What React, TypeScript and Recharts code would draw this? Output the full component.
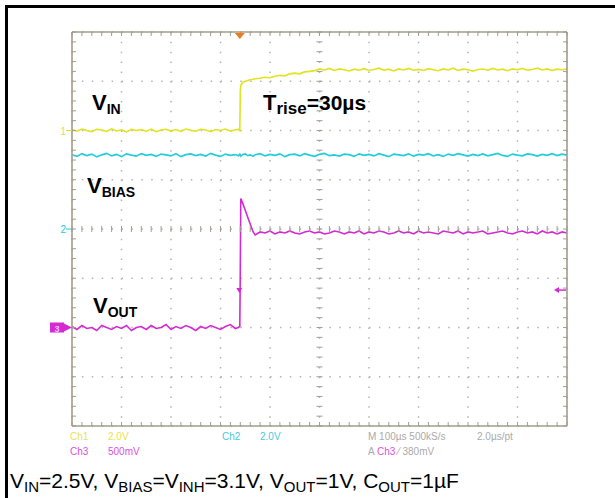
import {
  CartesianGrid,
  ComposedChart,
  Line,
  ReferenceDot,
  Scatter,
  XAxis,
  YAxis,
} from "recharts";

// time base: 100us/div, 10 divs
const TIME_US = [
  0, 10, 20, 30, 40, 50, 60, 70, 80, 90, 100, 110, 120, 130, 140, 150, 160, 170,
  180, 190, 200, 210, 220, 230, 240, 250, 260, 270, 280, 290, 300, 310, 320, 330,
  336, 339, 340, 341, 345, 350, 355, 360, 366, 370,
  380, 390, 400, 410, 420, 430, 440, 450, 460, 470, 480, 490, 500, 510, 520, 530,
  540, 550, 560, 570, 580, 590, 600, 610, 620, 630, 640, 650, 660, 670, 680, 690,
  700, 710, 720, 730, 740, 750, 760, 770, 780, 790, 800, 810, 820, 830, 840, 850,
  860, 870, 880, 890, 900, 910, 920, 930, 940, 950, 960, 970, 980, 990, 1000,
];

// Ch1 — V_IN (volts)
const VIN_V = [
  0.04, -0.03, 0.06, 0.0, -0.05, 0.05, 0.02, -0.04, 0.07, -0.02, 0.03, -0.06,
  0.05, 0.0, 0.04, -0.03, 0.06, -0.05, 0.02, 0.05, -0.02, 0.04, -0.04, 0.06,
  0.01, -0.03, 0.05, 0.02, -0.05, 0.04, 0.0, 0.06, -0.03, 0.03, 0.05, 0.0,
  1.6, 1.85, 1.95, 2.0, 2.03, 2.06, 2.08, 2.1,
  2.12, 2.16, 2.14, 2.2, 2.24, 2.22, 2.3, 2.33, 2.3, 2.38, 2.4, 2.43, 2.5, 2.46,
  2.52, 2.44, 2.5, 2.47, 2.42, 2.49, 2.45, 2.51, 2.44, 2.48, 2.53, 2.45, 2.49,
  2.42, 2.5, 2.46, 2.52, 2.45, 2.48, 2.44, 2.51, 2.47, 2.43, 2.5, 2.46, 2.53,
  2.44, 2.49, 2.47, 2.41, 2.48, 2.5, 2.45, 2.52, 2.46, 2.49, 2.43, 2.5, 2.47,
  2.52, 2.45, 2.48, 2.53, 2.46, 2.5, 2.44, 2.49, 2.47, 2.5,
];

// Ch2 — V_BIAS (volts)
const VBIAS_V = [
  3.02, 2.95, 3.06, 2.98, 3.04, 2.93, 3.01, 3.07, 2.97, 3.03, 2.94, 3.05, 3.0,
  2.96, 3.06, 2.99, 3.03, 2.95, 3.04, 3.01, 2.97, 3.06, 2.94, 3.02, 3.05, 2.98,
  3.03, 2.96, 3.07, 3.0, 2.95, 3.04, 2.99, 3.02, 2.97, 3.04, 3.0, 2.96, 3.03,
  3.05, 2.98, 3.01, 2.95, 3.02,
  3.06, 2.97, 3.03, 2.99, 3.05, 2.94, 3.02, 3.04, 2.97, 3.06, 3.0, 2.95, 3.03,
  3.07, 2.98, 3.01, 2.96, 3.04, 3.02, 2.95, 3.05, 2.99, 3.03, 2.97, 3.06, 3.0,
  2.94, 3.04, 3.01, 2.98, 3.05, 2.96, 3.03, 3.0, 3.06, 2.97, 3.02, 2.95, 3.04,
  2.99, 3.06, 3.01, 2.96, 3.03, 2.98, 3.05, 2.97, 3.02, 3.07, 2.99, 2.95, 3.04,
  3.0, 2.97, 3.05, 3.02, 2.96, 3.03, 2.99, 3.06, 2.98, 3.04, 3.0,
];

// Ch3 — V_OUT (volts)
const VOUT_V = [
  0.01, -0.02, 0.02, -0.01, 0.0, -0.03, 0.02, 0.0, -0.02, 0.01, -0.01, 0.02,
  -0.03, 0.0, 0.01, -0.02, 0.02, -0.01, 0.0, 0.03, -0.02, 0.01, -0.01, 0.02,
  0.0, -0.03, 0.01, -0.01, 0.02, 0.0, -0.02, 0.01, 0.03, -0.01, 0.0, 0.01,
  0.6, 1.31, 1.26, 1.19, 1.12, 1.05, 0.97, 0.94,
  0.97, 0.96, 0.98, 0.95, 0.97, 0.96, 0.98, 0.96, 0.95, 0.97, 0.98, 0.96, 0.97,
  0.95, 0.96, 0.98, 0.97, 0.95, 0.97, 0.96, 0.98, 0.95, 0.97, 0.96, 0.98, 0.97,
  0.95, 0.96, 0.98, 0.96, 0.97, 0.95, 0.98, 0.96, 0.97, 0.96, 0.95, 0.98, 0.97,
  0.96, 0.98, 0.95, 0.97, 0.96, 0.97, 0.98, 0.95, 0.96, 0.97, 0.98, 0.96, 0.95,
  0.97, 0.98, 0.96, 0.97, 0.95, 0.98, 0.96, 0.97, 0.95, 0.97, 0.96,
];

const DIV_TICKS = [0, 1, 2, 3, 4, 5, 6, 7, 8];
const TIME_TICKS = [0, 100, 200, 300, 400, 500, 600, 700, 800, 900, 1000];
const TRIGGER_US = 339;
const TRIGGER_LEVEL_V = 0.38;

// volts/div and ground reference (divs from bottom) for each channel
const CH1 = { vdiv: 2, ref: 6, color: "#e2e21e" };
const CH2 = { vdiv: 2, ref: 4, color: "#22ccd8" };
const CH3 = { vdiv: 0.5, ref: 2, color: "#d42ad4" };

const domainOf = (c: { vdiv: number; ref: number }) => [-c.ref * c.vdiv, (8 - c.ref) * c.vdiv];

const minorTicks = (max: number, step: number) => {
  const out: number[] = [];
  for (let v = 0; v <= max + 1e-9; v += step) out.push(+v.toFixed(3));
  return out;
};

// graticule minor tick positions (0.2 div)
const X_MINOR = minorTicks(1000, 20);
const Y_MINOR = minorTicks(8, 0.2);
const ticksAlongX = (d: number) => X_MINOR.map((t) => ({ t, d }));
const ticksAlongY = (t: number) => Y_MINOR.map((d) => ({ t, d }));

const rows = TIME_US.map((t, i) => ({
  t,
  vin: VIN_V[i],
  vbias: VBIAS_V[i],
  vout: VOUT_V[i],
}));

const W = 615;
const H = 498;
const BORDER = "#a19d8c";
const GRID = "#b4b4ac";
const TICK = "#a29e90";

function Marker({ cx, cy, label, color }: any) {
  return (
    <g>
      <text x={cx - 6} y={cy + 4} textAnchor="end" fontSize={10} fill={color} fontFamily="Arial, 'Liberation Sans'">
        {label}
      </text>
      <line x1={cx - 6} x2={cx} y1={cy} y2={cy} stroke={color} strokeWidth={1} />
    </g>
  );
}

function Ch3Marker({ cx, cy }: any) {
  return (
    <g>
      <rect x={cx - 22} y={cy - 5} width={14} height={10} fill={CH3.color} />
      <text x={cx - 15} y={cy + 4} textAnchor="middle" fontSize={9} fill="#f4c0f4" fontFamily="Arial, 'Liberation Sans'" fontWeight="bold">
        3
      </text>
      <path d={`M${cx - 8},${cy - 4} L${cx},${cy} L${cx - 8},${cy + 4} Z`} fill={CH3.color} />
    </g>
  );
}

function TrigTop({ cx, cy }: any) {
  return <path d={`M${cx - 5},${cy + 1} L${cx + 5},${cy + 1} L${cx},${cy + 7} Z`} fill="#f07a18" />;
}

function TrigLevel({ cx, cy }: any) {
  return (
    <g>
      <line x1={cx - 10} x2={cx - 1} y1={cy} y2={cy} stroke={CH3.color} strokeWidth={1.5} />
      <path d={`M${cx - 13},${cy} L${cx - 8},${cy - 3} L${cx - 8},${cy + 3} Z`} fill={CH3.color} />
    </g>
  );
}

function TrigPoint({ cx, cy }: any) {
  return <path d={`M${cx - 3},${cy - 2} L${cx + 3},${cy - 2} L${cx},${cy + 3} Z`} fill={CH3.color} />;
}

// tick mark shapes for the graticule scatters
const vTick = (from: number, to: number) => (p: any) =>
  <line x1={p.cx} x2={p.cx} y1={p.cy + from} y2={p.cy + to} stroke={TICK} strokeWidth={1} />;
const hTick = (from: number, to: number) => (p: any) =>
  <line x1={p.cx + from} x2={p.cx + to} y1={p.cy} y2={p.cy} stroke={TICK} strokeWidth={1} />;

export default function App() {
  const font = "Arial, 'Liberation Sans', Helvetica, sans-serif";
  const frameAxis = {
    type: "number" as const,
    mirror: true,
    tick: false,
    tickLine: false,
    axisLine: { stroke: BORDER, strokeWidth: 1.6 },
  };
  const tickSeries = { xAxisId: "t", yAxisId: "div", dataKey: "d", isAnimationActive: false, legendType: "none" as const };
  return (
    <div style={{ position: "absolute", left: 0, top: 0, width: W, height: H, background: "#fff", overflow: "hidden" }}>
      <div
        style={{
          position: "absolute",
          left: 5,
          top: 5,
          width: W,
          height: H,
          borderLeft: "3px solid #000",
          borderTop: "3px solid #000",
        }}
      />
      <div style={{ position: "absolute", left: 0, top: 0 }}>
        <ComposedChart width={W} height={H} data={rows} margin={{ top: 32, right: 48, bottom: 72, left: 72 }}>
          <XAxis xAxisId="t" dataKey="t" type="number" domain={[0, 1000]} ticks={TIME_TICKS} hide />
          <YAxis yAxisId="div" type="number" domain={[0, 8]} ticks={DIV_TICKS} hide />
          <YAxis yAxisId="ch1" type="number" domain={domainOf(CH1)} hide allowDataOverflow />
          <YAxis yAxisId="ch2" type="number" domain={domainOf(CH2)} hide allowDataOverflow />
          <YAxis yAxisId="ch3" type="number" domain={domainOf(CH3)} hide allowDataOverflow />

          <CartesianGrid xAxisId="t" yAxisId="div" vertical={false} stroke={GRID} strokeWidth={1.5} strokeDasharray="1.5 8.4" />
          <CartesianGrid xAxisId="t" yAxisId="div" horizontal={false} stroke={GRID} strokeWidth={1.5} strokeDasharray="1.5 8.35" />

          {/* graticule frame */}
          <XAxis xAxisId="bb" orientation="bottom" domain={[0, 1000]} height={4} {...frameAxis} />
          <XAxis xAxisId="bt" orientation="top" domain={[0, 1000]} height={4} {...frameAxis} />
          <YAxis yAxisId="bl" orientation="left" domain={[0, 8]} width={4} {...frameAxis} />
          <YAxis yAxisId="br" orientation="right" domain={[0, 8]} width={4} {...frameAxis} />

          {/* minor ticks: frame (inward) and center cross (both sides) */}
          <Scatter {...tickSeries} data={ticksAlongX(0)} shape={vTick(-4, 0)} />
          <Scatter {...tickSeries} data={ticksAlongX(8)} shape={vTick(0, 4)} />
          <Scatter {...tickSeries} data={ticksAlongX(4)} shape={vTick(-3, 3)} />
          <Scatter {...tickSeries} data={ticksAlongY(0)} shape={hTick(0, 4)} />
          <Scatter {...tickSeries} data={ticksAlongY(1000)} shape={hTick(-4, 0)} />
          <Scatter {...tickSeries} data={ticksAlongY(500)} shape={hTick(-3, 3)} />

          <Line xAxisId="t" yAxisId="ch2" dataKey="vbias" stroke={CH2.color} strokeWidth={1.6} dot={false} isAnimationActive={false} type="linear" />
          <Line xAxisId="t" yAxisId="ch1" dataKey="vin" stroke={CH1.color} strokeWidth={1.6} dot={false} isAnimationActive={false} type="linear" />
          <Line xAxisId="t" yAxisId="ch3" dataKey="vout" stroke={CH3.color} strokeWidth={1.6} dot={false} isAnimationActive={false} type="linear" />

          <ReferenceDot xAxisId="t" yAxisId="ch1" x={0} y={0} ifOverflow="visible" shape={(p: any) => <Marker {...p} label="1" color={CH1.color} />} />
          <ReferenceDot xAxisId="t" yAxisId="ch2" x={0} y={0} ifOverflow="visible" shape={(p: any) => <Marker {...p} label="2" color={CH2.color} />} />
          <ReferenceDot xAxisId="t" yAxisId="ch3" x={0} y={0} ifOverflow="visible" shape={(p: any) => <Ch3Marker {...p} />} />
          <ReferenceDot xAxisId="t" yAxisId="div" x={TRIGGER_US} y={8} ifOverflow="visible" shape={(p: any) => <TrigTop {...p} />} />
          <ReferenceDot xAxisId="t" yAxisId="ch3" x={1000} y={TRIGGER_LEVEL_V} ifOverflow="visible" shape={(p: any) => <TrigLevel {...p} />} />
          <ReferenceDot xAxisId="t" yAxisId="ch3" x={TRIGGER_US - 1} y={TRIGGER_LEVEL_V} ifOverflow="visible" shape={(p: any) => <TrigPoint {...p} />} />
        </ComposedChart>
      </div>

      <svg width={W} height={H} style={{ position: "absolute", left: 0, top: 0, pointerEvents: "none" }} fontFamily={font}>
        <text x={92} y={110} fontSize={22} fontWeight="bold" fill="#000">
          V<tspan fontSize={14} dy={4}>IN</tspan>
        </text>
        <text x={263} y={110} fontSize={22} fontWeight="bold" fill="#000">
          T<tspan fontSize={17} dy={4}>rise</tspan>
          <tspan fontSize={21} dy={-4}>=30µs</tspan>
        </text>
        <text x={87} y={193} fontSize={22} fontWeight="bold" fill="#000">
          V<tspan fontSize={14} dy={4}>BIAS</tspan>
        </text>
        <text x={93} y={313} fontSize={22} fontWeight="bold" fill="#000">
          V<tspan fontSize={14} dy={4}>OUT</tspan>
        </text>

        <g fontSize={10}>
          <text x={70} y={440} fill="#e4e452">Ch1</text>
          <text x={108} y={440} fill="#e4e452">2.0V</text>
          <text x={70} y={455} fill="#e050e0">Ch3</text>
          <text x={108} y={455} fill="#e050e0">500mV</text>
          <text x={222} y={440} fill="#4cc8e0">Ch2</text>
          <text x={260} y={440} fill="#4cc8e0">2.0V</text>
          <text x={368} y={440} fill="#aaaaaa">M 100µs 500kS/s</text>
          <text x={477} y={440} fill="#aaaaaa">2.0µs/pt</text>
          <text x={368} y={455} fill="#aaaaaa">
            A <tspan fill="#e050e0">Ch3</tspan> ⁄ 380mV
          </text>
        </g>

        <text x={10} y={488} fontSize={21} fill="#000">
          V<tspan fontSize={15} dy={4}>IN</tspan>
          <tspan dy={-4}>=2.5V, V</tspan>
          <tspan fontSize={15} dy={4}>BIAS</tspan>
          <tspan dy={-4}>=V</tspan>
          <tspan fontSize={15} dy={4}>INH</tspan>
          <tspan dy={-4}>=3.1V, V</tspan>
          <tspan fontSize={15} dy={4}>OUT</tspan>
          <tspan dy={-4}>=1V, C</tspan>
          <tspan fontSize={15} dy={4}>OUT</tspan>
          <tspan dy={-4}>=1µF</tspan>
        </text>
      </svg>
    </div>
  );
}
